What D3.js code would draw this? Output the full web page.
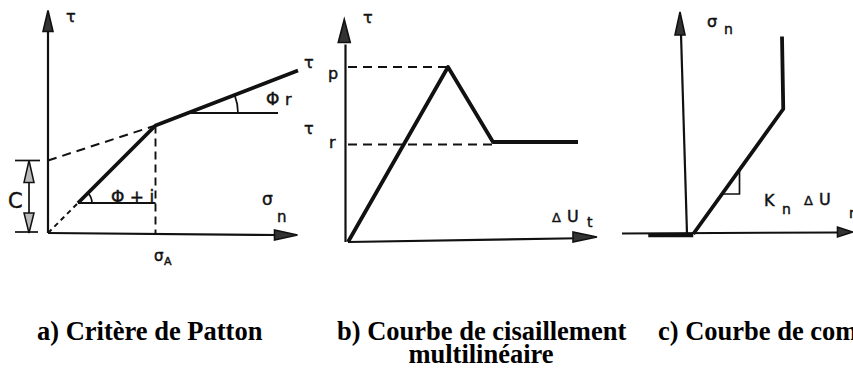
<!DOCTYPE html>
<html>
<head>
<meta charset="utf-8">
<script src="https://cdn.jsdelivr.net/npm/d3@7"></script>
<style>
  html, body { margin: 0; padding: 0; background: #fff; }
  svg { display: block; }
  .lbl { font-family: "DejaVu Sans", sans-serif; fill: #111; stroke: #111; stroke-width: 0.45px; }
  .cap { font-family: "Liberation Serif", "Times New Roman", serif; font-weight: bold; font-size: 26.5px; fill: #000; }
</style>
</head>
<body>
<svg id="fig" width="853" height="373"></svg>
<script>
// ---- a) Patton criterion (normal stress vs shear stress) ----
const pattonDashedStart = [[0, 0], [1.2, 1.2]];          // first part of the dilatant branch
const pattonCurve = [[1.2, 1.2], [4.3, 4.3], [10, 6.5]];   // bilinear envelope
const cohesionLine = [[0, 2.9], [4.3, 4.3]];              // residual branch extended to the τ axis
const sigmaA = 4.3;                                        // breakpoint stress
const cohesionC = 2.9;                                     // intercept C
const phiIRef = [[1.2, 1.2], [4.3, 1.2]];
const phiRRef = [[5.6, 4.8], [9.2, 4.8]];

// ---- b) multilinear shear curve ----
const shearCurve = [[0, 0], [4.0, 7.0], [5.8, 4.0], [9.2, 4.0]];
const tauPeak = 7.0;
const tauResidual = 4.0;

// ---- c) normal compression curve ----
const compCurve = [[0.25, 0], [3.85, 5.0], [3.8, 7.9]];
const compFlat = [[-1.55, -0.05], [0.25, -0.05]];
const knTriangle = [[1.4, 1.6], [2.1, 1.6], [2.1, 2.57]];

const captions = [
  { text: "a) Critère de Patton", x: 37, y: 340 },
  { text: "b) Courbe de cisaillement", x: 337, y: 340 },
  { text: "multilinéaire", x: 481, y: 363, anchor: "middle" },
  { text: "c) Courbe de compression", x: 658, y: 340 }
];

const svg = d3.select("#fig");
const ink = "#111";

// panel scales: 25 px per unit in both directions
const xA = d3.scaleLinear([0, 10], [48, 298]), yA = d3.scaleLinear([0, 10], [233, -17]);
const xB = d3.scaleLinear([0, 10], [348, 598]), yB = d3.scaleLinear([0, 8], [242, 42]);
const xC = d3.scaleLinear([0, 10], [687, 937]), yC = d3.scaleLinear([0, 10], [234, -16]);

function path(g, pts, xs, ys, w, dash) {
  const line = d3.line().x(d => xs(d[0])).y(d => ys(d[1]));
  const p = g.append("path").attr("d", line(pts)).attr("fill", "none")
    .attr("stroke", ink).attr("stroke-width", w)
    .attr("stroke-linejoin", "round").attr("stroke-linecap", "butt");
  if (dash) p.attr("stroke-dasharray", dash);
  return p;
}

// long narrow arrow head; dir = "up" | "right"
function arrowHead(g, tx, ty, dir, len, hw) {
  const pts = dir === "up"
    ? [[tx, ty], [tx - hw, ty + len], [tx + hw, ty + len]]
    : [[tx, ty], [tx - len, ty - hw], [tx - len, ty + hw]];
  g.append("path").attr("d", "M" + pts.map(p => p.join(",")).join("L") + "Z")
    .attr("fill", "#333").attr("stroke", ink).attr("stroke-width", 1.6)
    .attr("stroke-linejoin", "miter");
}

function arc(g, cx, cy, r, a0, a1) {
  // angles in degrees measured counter-clockwise from +x
  const gen = d3.arc().innerRadius(r).outerRadius(r)
    .startAngle((90 - a1) * Math.PI / 180).endAngle((90 - a0) * Math.PI / 180);
  g.append("path").attr("d", gen()).attr("transform", `translate(${cx},${cy})`)
    .attr("fill", "none").attr("stroke", ink).attr("stroke-width", 1.7);
}

function label(g, x, y, txt, size) {
  g.append("text").attr("class", "lbl").attr("x", x).attr("y", y)
    .attr("font-size", size).text(txt);
}

// ================= Panel a =================
const ga = svg.append("g");
path(ga, [[0, 0], [0, 8.6]], xA, yA, 2.2);
arrowHead(ga, xA(0), yA(8.9), "up", 21, 5);
path(ga, [[0, 0], [9.2, -0.08]], xA, yA, 2.2);
arrowHead(ga, xA(9.98), yA(-0.08), "right", 23, 5);

path(ga, pattonDashedStart, xA, yA, 2, "5,4");
path(ga, pattonCurve, xA, yA, 3.8);
path(ga, cohesionLine, xA, yA, 2, "9,6");
path(ga, [[sigmaA, pattonCurve[1][1]], [sigmaA, 0]], xA, yA, 1.9, "8,5");
path(ga, phiIRef, xA, yA, 1.8);
path(ga, phiRRef, xA, yA, 1.8);
arc(ga, xA(phiIRef[0][0]), yA(phiIRef[0][1]), 14, 0, 45);
arc(ga, xA(phiRRef[0][0]), yA(phiRRef[0][1]), 50, 0, 21);

// cohesion dimension
path(ga, [[-1.32, cohesionC], [-0.32, cohesionC]], xA, yA, 1.7);
path(ga, [[-1.32, 0.04], [-0.4, 0.04]], xA, yA, 1.7);
path(ga, [[-0.76, cohesionC - 0.1], [-0.76, 0.1]], xA, yA, 1.7);
ga.append("path").attr("d", `M${xA(-0.76)},${yA(cohesionC)}L${xA(-0.76) - 5},${yA(cohesionC) + 22}L${xA(-0.76) + 5},${yA(cohesionC) + 22}Z`)
  .attr("fill", "#bbb").attr("stroke", ink).attr("stroke-width", 1.5);
ga.append("path").attr("d", `M${xA(-0.76)},${yA(0)}L${xA(-0.76) - 5},${yA(0) - 20}L${xA(-0.76) + 5},${yA(0) - 20}Z`)
  .attr("fill", "#bbb").attr("stroke", ink).attr("stroke-width", 1.5);

label(ga, 66, 22, "τ", 16);
label(ga, 8, 208, "C", 21);
label(ga, 111, 203, "Φ + i", 17);
label(ga, 266, 105, "Φ", 17);
label(ga, 285, 105, "r", 16);
label(ga, 262, 205, "σ", 17);
label(ga, 277, 222, "n", 15);
label(ga, 154, 261, "σ", 15);
label(ga, 164, 265, "A", 11);

// ================= Panel b =================
const gb = svg.append("g");
path(gb, [[-0.1, 0], [-0.1, 7.9]], xB, yB, 2.2);
arrowHead(gb, xB(-0.15), yB(8.9), "up", 23, 6);
path(gb, [[0, 0], [9.2, 0.15]], xB, yB, 2.2);
arrowHead(gb, xB(9.96), yB(0.2), "right", 24, 5);

path(gb, [[0, tauPeak], [shearCurve[1][0] - 0.05, tauPeak]], xB, yB, 2, "9,6");
path(gb, [[0, tauResidual - 0.1], [shearCurve[2][0], tauResidual - 0.1]], xB, yB, 2, "9,6");
path(gb, shearCurve, xB, yB, 3.8);

label(gb, 363, 23, "τ", 16);
label(gb, 304, 68, "τ", 16);
label(gb, 328, 79, "p", 16);
label(gb, 304, 134, "τ", 16);
label(gb, 329, 148, "r", 16);
label(gb, 552, 222, "Δ", 13);
label(gb, 567, 222, "U", 16);
label(gb, 587, 227, "t", 14);

// ================= Panel c =================
const gc = svg.append("g");
path(gc, [[0, 0], [-0.24, 8.0]], xC, yC, 2.2);
arrowHead(gc, xC(-0.28), yC(8.88), "up", 23, 5);
path(gc, [[-2.6, 0.02], [6.1, 0.06]], xC, yC, 2);
arrowHead(gc, xC(6.62), yC(0.08), "right", 15, 5);
path(gc, compFlat, xC, yC, 3.8);
path(gc, compCurve, xC, yC, 3.8);
path(gc, knTriangle, xC, yC, 1.7);

label(gc, 707, 27, "σ", 16);
label(gc, 724, 34, "n", 14);
label(gc, 764, 206, "K", 16);
label(gc, 782, 214, "n", 14);
label(gc, 804, 205, "Δ", 13);
label(gc, 819, 205, "U", 16);
label(gc, 849, 218, "r", 14);

// ================= captions =================
svg.append("g").selectAll("text").data(captions).join("text")
  .attr("class", "cap").attr("x", d => d.x).attr("y", d => d.y)
  .attr("text-anchor", d => d.anchor || "start").text(d => d.text);
</script>
</body>
</html>
